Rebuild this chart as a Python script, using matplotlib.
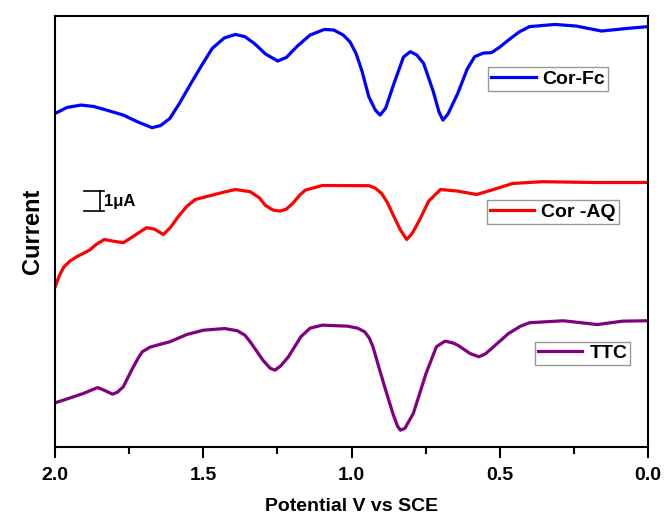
import matplotlib
matplotlib.use('Agg')
import matplotlib.pyplot as plt

plt.rcParams['font.family'] = ['Liberation Sans', 'DejaVu Sans']
plt.rcParams['font.weight'] = 'bold'

# Potential (V vs SCE) and current (uA, curves offset for display)
fc_v = [2.000, 1.960, 1.913, 1.870, 1.827, 1.770, 1.720, 1.673, 1.645, 1.613,
        1.580, 1.542, 1.505, 1.470, 1.430, 1.392, 1.360, 1.328, 1.290, 1.249,
        1.220, 1.185, 1.140, 1.092, 1.060, 1.028, 1.005, 0.985, 0.965, 0.942,
        0.920, 0.904, 0.885, 0.857, 0.825, 0.802, 0.780, 0.757, 0.725, 0.705,
        0.692, 0.675, 0.642, 0.610, 0.585, 0.555, 0.528, 0.500, 0.471, 0.435,
        0.400, 0.314, 0.243, 0.157, 0.071, 0.000]
fc_i = [16.58, 16.88, 17.00, 16.93, 16.75, 16.50, 16.15, 15.87, 15.97, 16.33,
        17.10, 18.08, 19.00, 19.83, 20.35, 20.53, 20.42, 20.08, 19.55, 19.20,
        19.38, 19.92, 20.50, 20.78, 20.75, 20.50, 20.15, 19.58, 18.70, 17.42,
        16.75, 16.50, 16.85, 18.08, 19.40, 19.67, 19.50, 19.08, 17.70, 16.65,
        16.25, 16.55, 17.58, 18.80, 19.42, 19.60, 19.62, 19.90, 20.25, 20.65,
        20.92, 21.03, 20.95, 20.70, 20.83, 20.92]

aq_v = [2.000, 1.985, 1.970, 1.950, 1.927, 1.884, 1.860, 1.834, 1.805, 1.770,
        1.735, 1.692, 1.665, 1.635, 1.610, 1.585, 1.555, 1.527, 1.470, 1.430,
        1.392, 1.342, 1.310, 1.292, 1.265, 1.242, 1.220, 1.199, 1.175, 1.156,
        1.099, 0.942, 0.920, 0.899, 0.880, 0.857, 0.835, 0.814, 0.795, 0.771,
        0.740, 0.700, 0.642, 0.578, 0.528, 0.457, 0.357, 0.186, 0.000]
aq_i = [7.92, 8.50, 8.92, 9.20, 9.42, 9.75, 10.05, 10.28, 10.20, 10.12,
        10.45, 10.87, 10.80, 10.53, 10.90, 11.42, 11.95, 12.28, 12.50, 12.65,
        12.78, 12.67, 12.35, 12.00, 11.75, 11.70, 11.80, 12.08, 12.50, 12.75,
        12.98, 12.97, 12.85, 12.58, 12.15, 11.42, 10.75, 10.28, 10.60, 11.25,
        12.20, 12.78, 12.70, 12.53, 12.75, 13.08, 13.17, 13.13, 13.13]

ttc_v = [2.000, 1.956, 1.906, 1.870, 1.856, 1.835, 1.806, 1.790, 1.770, 1.742,
         1.720, 1.706, 1.680, 1.656, 1.613, 1.556, 1.499, 1.428, 1.385, 1.360,
         1.342, 1.299, 1.275, 1.259, 1.240, 1.213, 1.171, 1.140, 1.099, 1.014,
         0.980, 0.956, 0.940, 0.928, 0.910, 0.885, 0.860, 0.845, 0.835, 0.820,
         0.792, 0.770, 0.749, 0.714, 0.685, 0.660, 0.642, 0.600, 0.571, 0.550,
         0.528, 0.471, 0.430, 0.400, 0.286, 0.171, 0.086, 0.000]
ttc_i = [2.12, 2.33, 2.58, 2.80, 2.88, 2.75, 2.55, 2.65, 2.92, 3.75,
         4.35, 4.67, 4.90, 5.00, 5.17, 5.53, 5.75, 5.83, 5.72, 5.50,
         5.17, 4.25, 3.85, 3.75, 3.95, 4.42, 5.42, 5.85, 6.00, 5.95,
         5.85, 5.67, 5.35, 4.92, 4.00, 2.75, 1.55, 0.95, 0.75, 0.85,
         1.58, 2.60, 3.58, 4.92, 5.20, 5.12, 5.00, 4.58, 4.42, 4.55,
         4.83, 5.58, 5.95, 6.12, 6.22, 6.03, 6.20, 6.22]

fig = plt.figure(figsize=(6.64, 5.17), dpi=100)
ax = fig.add_axes([0.083, 0.135, 0.893, 0.834])

l1, = ax.plot(fc_v, fc_i, color='#0000FF', lw=2.3, label='Cor-Fc',
              solid_joinstyle='round')
l2, = ax.plot(aq_v, aq_i, color='#FF0000', lw=2.3, label='Cor -AQ',
              solid_joinstyle='round')
l3, = ax.plot(ttc_v, ttc_i, color='#800080', lw=2.3, label='TTC',
              solid_joinstyle='round')

ax.set_xlim(2.0, 0.0)
ax.set_ylim(-0.1, 21.45)
ax.set_xticks([2.0, 1.5, 1.0, 0.5, 0.0])
ax.set_xticks([1.75, 1.25, 0.75, 0.25], minor=True)
ax.set_xticklabels(['2.0', '1.5', '1.0', '0.5', '0.0'])
ax.set_yticks([])
ax.tick_params(axis='x', which='major', direction='out', length=8, width=1.5,
               labelsize=14, pad=6)
ax.tick_params(axis='x', which='minor', direction='out', length=5, width=1.5)
for s in ax.spines.values():
    s.set_linewidth(1.5)

ax.set_xlabel('Potential V vs SCE', fontsize=14, fontweight='bold', labelpad=10)
ax.set_ylabel('Current', fontsize=17, fontweight='bold', labelpad=8)

# scale bar, 1 uA
ax.plot([1.902, 1.835], [12.7, 12.7], color='k', lw=1.2)
ax.plot([1.902, 1.835], [11.7, 11.7], color='k', lw=1.2)
ax.plot([1.848, 1.848], [11.7, 12.7], color='k', lw=1.2)
ax.text(1.835, 12.2, '1\u03bcA', fontsize=12, fontweight='bold',
        va='center', ha='left')

leg_kw = dict(frameon=True, fancybox=False, edgecolor='#808080', fontsize=14,
              handlelength=2.3, handletextpad=0.35, borderpad=0.15,
              borderaxespad=0, loc='upper left')
lg1 = ax.legend(handles=[l1], bbox_to_anchor=(0.730, 0.881), **leg_kw)
ax.add_artist(lg1)
lg2 = ax.legend(handles=[l2], bbox_to_anchor=(0.728, 0.573), **leg_kw)
ax.add_artist(lg2)
lg3 = ax.legend(handles=[l3], bbox_to_anchor=(0.809, 0.245), **leg_kw)
for lg in (lg1, lg2, lg3):
    lg.get_frame().set_linewidth(1.0)

fig.savefig('out.png', dpi=100)
